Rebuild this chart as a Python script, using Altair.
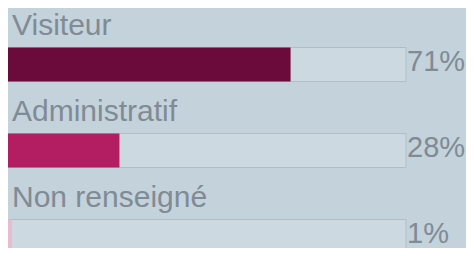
import altair as alt
import pandas as pd

categories = ["Visiteur", "Administratif", "Non renseigné"]
values = [71, 28, 1]
labels = ["71%", "28%", "1%"]
bar_colors = ["#6b0b3b", "#b31e62", "#e8bccd"]

df = pd.DataFrame({"cat": categories, "val": values, "lab": labels})

y = alt.Y("cat:N", sort=categories, axis=None,
          scale=alt.Scale(paddingInner=0, paddingOuter=0, range=[2.5, 260.5]))
xs = alt.Scale(domain=[0, 100], nice=False, zero=True)

track = alt.Chart(df).mark_bar(size=34, yOffset=11, color="#cdd9e0",
                               stroke="#b0bec7", strokeWidth=1).encode(
    x=alt.datum(0, scale=xs, axis=None), x2=alt.datum(100), y=y)

bars = alt.Chart(df).mark_bar(size=34, yOffset=11).encode(
    x=alt.X("val:Q", scale=xs, axis=None), y=y,
    color=alt.Color("cat:N", scale=alt.Scale(domain=categories, range=bar_colors), legend=None))

names = alt.Chart(df).mark_text(align="left", baseline="alphabetic", dx=4, dy=-19,
                                font="Liberation Sans", fontSize=30, color="#7f8b95").encode(
    x=alt.datum(0, scale=xs), y=y, text="cat:N")

pcts = alt.Chart(df).mark_text(align="left", baseline="alphabetic", dx=1, dy=17,
                               font="Liberation Sans", fontSize=29, color="#7f8b95").encode(
    x=alt.datum(100, scale=xs), y=y, text="lab:N")

chart = alt.layer(track, bars, names, pcts).properties(
    width=398, height=240,
    autosize=alt.AutoSizeParams(type="none"),
    padding={"left": 0, "top": 0, "right": 60, "bottom": 0},
    background="#c4d2db",
).configure_view(stroke=None)

chart.save("out.html", embed_options={"renderer": "svg", "actions": False})
